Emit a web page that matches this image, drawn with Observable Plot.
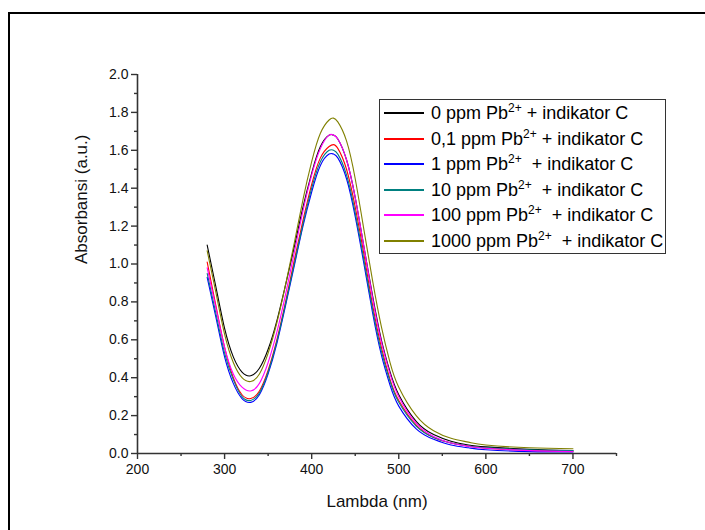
<!DOCTYPE html>
<html>
<head>
<meta charset="utf-8">
<script src="https://cdn.jsdelivr.net/npm/d3@7"></script>
<script src="https://cdn.jsdelivr.net/npm/@observablehq/plot@0.6"></script>
<style>
  html, body { margin: 0; padding: 0; background: #fff; }
  #wrap { position: relative; width: 705px; height: 530px; overflow: hidden; font-family: "Liberation Sans", Arial, sans-serif; }
  #frame { position: absolute; left: 8px; top: 12px; width: 800px; height: 700px; border-left: 2px solid #000; border-top: 2px solid #000; }
  #legend { position: absolute; left: 379px; top: 99px; width: 287px; height: 155px; border: 1px solid #333; box-sizing: border-box; background: #fff; }
  .row { position: absolute; left: 0; height: 26px; font-size: 18px; line-height: 26px; color: #000; white-space: pre; }
  .row .sw { position: absolute; left: 4px; top: 12px; width: 40px; height: 2px; }
  .row span { position: absolute; left: 51px; top: 0; }
  .row sup { font-size: 12px; vertical-align: 7px; line-height: 0; }
  svg { position: absolute; left: 0; top: 0; }
</style>
</head>
<body>
<div id="wrap"><div id="frame"></div></div>
<script>
const wavelengths = [280, 290, 300, 310, 320, 330, 340, 350, 360, 370, 380, 390, 400, 410, 420, 425, 430, 440, 450, 460, 470, 480, 490, 500, 520, 540, 560, 580, 600, 650, 700];

const seriesNames = ["0 ppm", "0,1 ppm", "1 ppm", "10 ppm", "100 ppm", "1000 ppm"];
const seriesColors = ["#000000", "#ff0000", "#0000ff", "#008080", "#ff00ff", "#808000"];
const legendGap = ["", "", " ", " ", " ", " "];

const abs0 =    [1.10, 0.88, 0.66, 0.51, 0.43, 0.41, 0.45, 0.55, 0.70, 0.89, 1.09, 1.30, 1.48, 1.62, 1.68, 1.68, 1.66, 1.55, 1.35, 1.09, 0.83, 0.60, 0.43, 0.31, 0.17, 0.10, 0.065, 0.045, 0.035, 0.022, 0.015];
const abs01 =   [1.01, 0.78, 0.56, 0.40, 0.31, 0.29, 0.33, 0.44, 0.60, 0.80, 1.02, 1.23, 1.42, 1.56, 1.62, 1.63, 1.61, 1.50, 1.30, 1.05, 0.78, 0.56, 0.39, 0.28, 0.15, 0.085, 0.055, 0.038, 0.028, 0.016, 0.012];
const abs1 =    [0.93, 0.72, 0.51, 0.37, 0.29, 0.27, 0.31, 0.42, 0.58, 0.78, 0.99, 1.20, 1.38, 1.52, 1.58, 1.58, 1.56, 1.45, 1.25, 1.00, 0.74, 0.52, 0.36, 0.25, 0.13, 0.075, 0.045, 0.03, 0.02, 0.01, 0.008];
const abs10 =   [0.95, 0.74, 0.53, 0.39, 0.30, 0.28, 0.32, 0.43, 0.59, 0.79, 1.00, 1.21, 1.40, 1.54, 1.60, 1.60, 1.58, 1.47, 1.27, 1.02, 0.76, 0.54, 0.38, 0.27, 0.145, 0.085, 0.055, 0.04, 0.03, 0.02, 0.015];
const abs100 =  [0.98, 0.77, 0.56, 0.42, 0.35, 0.33, 0.37, 0.48, 0.64, 0.84, 1.06, 1.28, 1.47, 1.61, 1.68, 1.68, 1.66, 1.55, 1.35, 1.09, 0.82, 0.59, 0.42, 0.30, 0.16, 0.09, 0.055, 0.038, 0.028, 0.015, 0.01];
const abs1000 = [1.07, 0.85, 0.63, 0.48, 0.40, 0.38, 0.42, 0.53, 0.69, 0.89, 1.11, 1.34, 1.54, 1.69, 1.76, 1.77, 1.75, 1.65, 1.45, 1.18, 0.91, 0.67, 0.48, 0.35, 0.20, 0.12, 0.08, 0.06, 0.045, 0.03, 0.025];

const xMajorTicks = [200, 300, 400, 500, 600, 700];
const xMinorTicks = [250, 350, 450, 550, 650, 750];
const yMajorTicks = [0.0, 0.2, 0.4, 0.6, 0.8, 1.0, 1.2, 1.4, 1.6, 1.8, 2.0];
const yMinorTicks = [0.1, 0.3, 0.5, 0.7, 0.9, 1.1, 1.3, 1.5, 1.7, 1.9];

const allSeries = [abs0, abs01, abs1, abs10, abs100, abs1000];
const data = [];
allSeries.forEach((vals, si) => {
  vals.forEach((v, i) => data.push({series: seriesNames[si], x: wavelengths[i], y: v}));
});

const axisColor = "#333";
const chart = Plot.plot({
  width: 705,
  height: 530,
  marginLeft: 137,
  marginRight: 89,
  marginTop: 74,
  marginBottom: 77,
  style: {fontFamily: "Liberation Sans, Arial, sans-serif", fontSize: "14px", color: "#111", background: "transparent"},
  x: {domain: [200, 750]},
  y: {domain: [0, 2.0]},
  color: {domain: seriesNames, range: seriesColors},
  marks: [
    Plot.line(data, {x: "x", y: "y", z: "series", stroke: "series", strokeWidth: 1.1, curve: "natural"}),
    Plot.ruleY([0], {stroke: axisColor, strokeWidth: 1.6}),
    Plot.ruleX([200], {stroke: axisColor, strokeWidth: 1.6}),
    Plot.axisX({ticks: xMajorTicks, tickSize: 6, tickPadding: 5, tickFormat: d => String(d), stroke: axisColor, strokeWidth: 1.4, label: null}),
    Plot.axisX({ticks: xMinorTicks, tickSize: 3, tickFormat: () => "", stroke: axisColor, strokeWidth: 1.4, label: null}),
    Plot.axisY({ticks: yMajorTicks, tickSize: 6, tickPadding: 3, tickFormat: d => d.toFixed(1), stroke: axisColor, strokeWidth: 1.4, label: null}),
    Plot.axisY({ticks: yMinorTicks, tickSize: 3, tickFormat: () => "", stroke: axisColor, strokeWidth: 1.4, label: null}),
    Plot.text(["Lambda (nm)"], {frameAnchor: "bottom", dy: 53, fontSize: 17, fill: "#111"}),
    Plot.text(["Absorbansi (a.u.)"], {frameAnchor: "left", dx: -56, rotate: -90, fontSize: 17, fill: "#111"})
  ]
});
const wrap = document.getElementById("wrap");
wrap.appendChild(chart);

const legend = document.createElement("div");
legend.id = "legend";
seriesNames.forEach((name, i) => {
  const row = document.createElement("div");
  row.className = "row";
  row.style.top = Math.round(i * 25.6) + "px";
  const sw = document.createElement("div");
  sw.className = "sw";
  sw.style.background = seriesColors[i];
  row.appendChild(sw);
  const label = document.createElement("span");
  label.innerHTML = name + " Pb<sup>2+</sup>" + legendGap[i] + " + indikator C";
  row.appendChild(label);
  legend.appendChild(row);
});
wrap.appendChild(legend);
</script>
</body>
</html>
